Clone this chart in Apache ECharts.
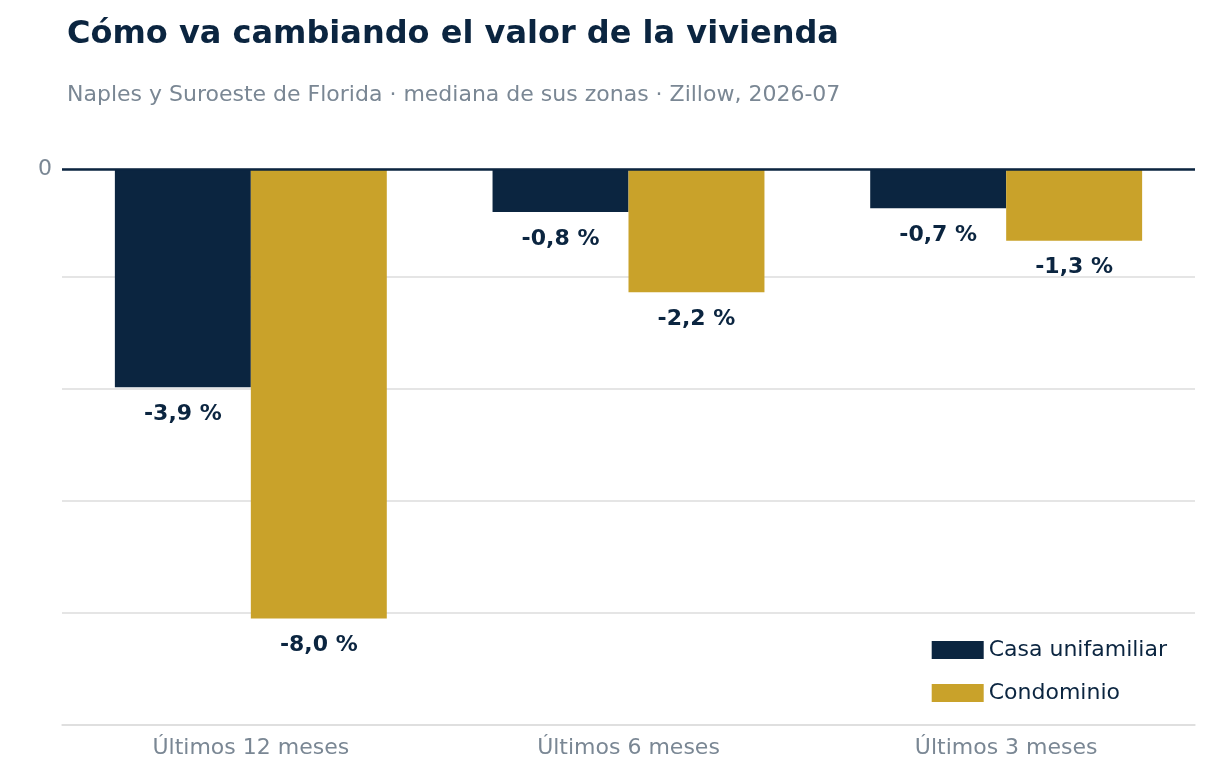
<!DOCTYPE html>
<html><head><meta charset="utf-8">
<script src="https://cdn.jsdelivr.net/npm/echarts@6/dist/echarts.min.js"></script>
<style>html,body{margin:0;padding:0;background:#fff}#c{width:1212px;height:779px}</style>
</head><body><div id="c"></div>
<script>
const categories = ['Últimos 12 meses', 'Últimos 6 meses', 'Últimos 3 meses'];
const casaValues = [-3.9, -0.77, -0.7];
const condoValues = [-8.03, -2.2, -1.28];
const casaLabels = ['-3,9 %', '-0,8 %', '-0,7 %'];
const condoLabels = ['-8,0 %', '-2,2 %', '-1,3 %'];
const yTicks = [0, -2, -4, -6, -8];
const navy = '#0b2540', gold = '#c9a22a', grey = '#7a8794';
const font = 'DejaVu Sans';
const chart = echarts.init(document.getElementById('c'));
function lbl(arr){return {show:true,position:'bottom',distance:16,fontFamily:font,fontSize:22,fontWeight:'bold',color:navy,formatter:p=>arr[p.dataIndex]};}
chart.setOption({
  animation:false,
  textStyle:{fontFamily:font},
  title:[{text:'Cómo va cambiando el valor de la vivienda',left:62,top:14,textStyle:{fontFamily:font,fontSize:32,fontWeight:'bold',color:navy}},
         {text:'Naples y Suroeste de Florida · mediana de sus zonas · Zillow, 2026-07',left:62,top:79,textStyle:{fontFamily:font,fontSize:22,fontWeight:'normal',color:grey}}],
  legend:{orient:'vertical',right:40,top:634,itemWidth:52,itemHeight:18,itemGap:21,textStyle:{fontFamily:font,fontSize:22,color:navy},icon:'rect',data:['Casa unifamiliar','Condominio']},
  grid:{left:62,right:17,top:169,bottom:54},
  xAxis:{type:'category',data:categories,position:'bottom',axisLine:{show:true,onZero:false,lineStyle:{color:'#dddddd',width:1.5}},axisTick:{show:false},
    axisLabel:{fontFamily:font,fontSize:22,color:grey,margin:12}},
  yAxis:{type:'value',min:-9.93,max:0,interval:2,
    axisLabel:{fontFamily:font,fontSize:22,color:grey,margin:10,formatter:v=>yTicks.includes(v)?(v<0?'\u2212'+(-v):String(v)):''},
    splitLine:{lineStyle:{color:'#dddddd',width:1.5}},axisLine:{show:false},axisTick:{show:false}},
  series:[
    {name:'Casa unifamiliar',type:'bar',data:casaValues,itemStyle:{color:navy},barGap:'0%',barCategoryGap:'28%',label:lbl(casaLabels),
     markLine:{silent:true,symbol:'none',label:{show:false},lineStyle:{color:navy,width:2.5,type:'solid'},data:[{yAxis:0}]}},
    {name:'Condominio',type:'bar',data:condoValues,itemStyle:{color:gold},label:lbl(condoLabels)}
  ]
});
</script></body></html>
